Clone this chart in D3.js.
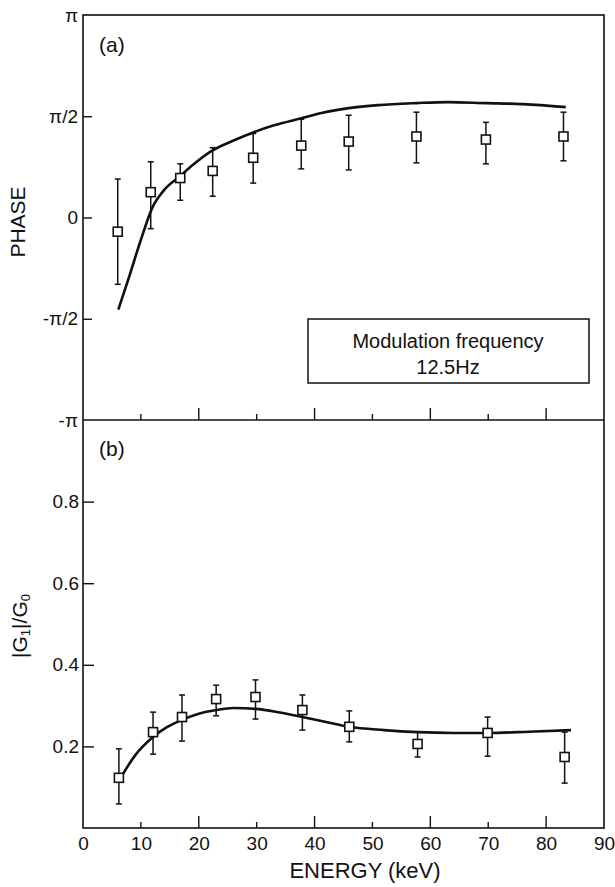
<!DOCTYPE html>
<html>
<head>
<meta charset="utf-8">
<script src="https://cdn.jsdelivr.net/npm/d3@7/dist/d3.min.js"></script>
<style>
  body { margin: 0; background: #fff; }
  svg text { font-family: "Liberation Sans", Arial, sans-serif; fill: #111; }
</style>
</head>
<body>
<div id="viz"></div>
<script>
// ****************** Data section ***************************
// energies of the measured points (keV)
var energies = [6, 11.7, 16.8, 22.4, 29.4, 37.7, 45.9, 57.6, 69.6, 83.0];

// panel (a): phase in units of pi, with error bar ends
var phase     = [-0.07, 0.125, 0.195, 0.23, 0.295, 0.355, 0.375, 0.40, 0.385, 0.40];
var phaseHi   = [0.19, 0.275, 0.265, 0.345, 0.415, 0.485, 0.505, 0.52, 0.47, 0.52];
var phaseLo   = [-0.33, -0.055, 0.085, 0.105, 0.17, 0.24, 0.235, 0.27, 0.265, 0.28];
var phaseCurveE = [6.1, 8, 10, 12, 14, 16.8, 19, 22.3, 26, 29.4, 33, 37.7, 41, 45.9, 51, 57.6, 63, 69.6, 76, 83.4];
var phaseCurve  = [-0.455, -0.29, -0.11, 0.05, 0.135, 0.205, 0.26, 0.33, 0.38, 0.42, 0.455, 0.49, 0.515, 0.54, 0.555, 0.565, 0.57, 0.565, 0.56, 0.545];

// panel (b): |G1|/G0
var energiesB = [6.2, 12.1, 17.1, 23, 29.8, 37.9, 46, 57.8, 69.9, 83.2];
var ratio     = [0.123, 0.235, 0.272, 0.316, 0.321, 0.289, 0.248, 0.206, 0.233, 0.174];
var ratioHi   = [0.194, 0.284, 0.326, 0.35, 0.363, 0.326, 0.287, 0.235, 0.272, 0.235];
var ratioLo   = [0.059, 0.181, 0.213, 0.275, 0.267, 0.240, 0.211, 0.174, 0.176, 0.110];
var ratioCurveE = [6.8, 9, 12.1, 14.5, 17.1, 20, 23, 26, 29.8, 34, 37.9, 42, 46, 52, 57.8, 64, 69.9, 77, 84.3];
var ratioCurve  = [0.13, 0.178, 0.223, 0.247, 0.265, 0.28, 0.289, 0.294, 0.292, 0.283, 0.272, 0.26, 0.248, 0.24, 0.235, 0.233, 0.233, 0.236, 0.240];

// tick labels
var xTicks = [0, 10, 20, 30, 40, 50, 60, 70, 80, 90];
var phaseTicks = [-1, -0.5, 0, 0.5, 1];
var phaseTickLabels = ["-\u03c0", "-\u03c0/2", "0", "\u03c0/2", "\u03c0"];
var ratioTicks = [0.2, 0.4, 0.6, 0.8];

// ****************** Layout section ***************************
var width = 615,
    height = 887;

var svg = d3.select("#viz")
    .append("svg")
    .attr("width", width)
    .attr("height", height);

var plotLeft = 83, plotRight = 604, plotTop = 15, plotMid = 420, plotBottom = 828;

var x = d3.scaleLinear().domain([0, 90]).range([plotLeft, plotRight]);
var yA = d3.scaleLinear().domain([-1, 1]).range([plotMid, plotTop]);
var yB = d3.scaleLinear().domain([0, 1]).range([plotBottom, plotMid]);

// frame
svg.append("rect")
    .attr("x", plotLeft).attr("y", plotTop)
    .attr("width", plotRight - plotLeft).attr("height", plotBottom - plotTop)
    .attr("fill", "none").attr("stroke", "#111").attr("stroke-width", 1.6);

svg.append("line")
    .attr("x1", plotLeft).attr("x2", plotRight)
    .attr("y1", plotMid).attr("y2", plotMid)
    .attr("stroke", "#111").attr("stroke-width", 1.6);

// ****************** Axis section ***************************
var xAxis = svg.append("g")
    .attr("transform", "translate(0," + plotBottom + ")")
    .call(d3.axisBottom(x).tickValues(xTicks).tickSize(0).tickPadding(9));
xAxis.select(".domain").remove();
xAxis.selectAll("text").style("font-size", "19px");

// x ticks pointing up, on bottom axis and on the middle line
[plotBottom, plotMid].forEach(function(y0) {
  svg.append("g").selectAll("line")
      .data(xTicks.filter(function(d) { return d > 0 && d < 90; }))
      .enter().append("line")
      .attr("x1", function(d) { return x(d); })
      .attr("x2", function(d) { return x(d); })
      .attr("y1", y0)
      .attr("y2", function(d) { return y0 - (d % 20 == 0 ? 12 : 6); })   // long ticks every 20
      .attr("stroke", "#111").attr("stroke-width", 1.4);
});

var yAxisA = svg.append("g")
    .attr("transform", "translate(" + plotLeft + ",0)")
    .call(d3.axisLeft(yA).tickValues(phaseTicks)
      .tickFormat(function(d, i) { return phaseTickLabels[i]; })
      .tickSize(-9).tickPadding(5));
yAxisA.select(".domain").remove();
yAxisA.selectAll("line").attr("stroke", "#111").attr("stroke-width", 1.4)
    .filter(function(d) { return Math.abs(d) == 1; }).remove();
yAxisA.selectAll("text").style("font-size", "19px");

var yAxisB = svg.append("g")
    .attr("transform", "translate(" + plotLeft + ",0)")
    .call(d3.axisLeft(yB).tickValues(ratioTicks).tickFormat(d3.format(".1f"))
      .tickSize(-11).tickPadding(4));
yAxisB.select(".domain").remove();
yAxisB.selectAll("line").attr("stroke", "#111").attr("stroke-width", 1.4);
yAxisB.selectAll("text").style("font-size", "19px");

// axis titles
svg.append("text")
    .attr("x", 365).attr("y", 878)
    .attr("text-anchor", "middle")
    .style("font-size", "22px")
    .text("ENERGY (keV)");

svg.append("text")
    .attr("transform", "translate(25,222) rotate(-90)")
    .attr("text-anchor", "middle")
    .style("font-size", "21px")
    .text("PHASE");

var gLabel = svg.append("text")
    .attr("transform", "translate(27,626) rotate(-90)")
    .attr("text-anchor", "middle")
    .style("font-size", "21px");
gLabel.append("tspan").text("|G");
gLabel.append("tspan").attr("baseline-shift", "-25%").style("font-size", "13px").text("1");
gLabel.append("tspan").text("|/G");
gLabel.append("tspan").attr("baseline-shift", "-25%").style("font-size", "13px").text("0");

// panel letters
svg.append("text").attr("x", 99).attr("y", 52).style("font-size", "21px").text("(a)");
svg.append("text").attr("x", 99).attr("y", 456).style("font-size", "21px").text("(b)");

// legend box
svg.append("rect")
    .attr("x", 308).attr("y", 319)
    .attr("width", 281).attr("height", 64)
    .attr("fill", "#fff").attr("stroke", "#111").attr("stroke-width", 1.5);
svg.append("text").attr("x", 448).attr("y", 348)
    .attr("text-anchor", "middle").style("font-size", "20px")
    .text("Modulation frequency");
svg.append("text").attr("x", 448).attr("y", 374)
    .attr("text-anchor", "middle").style("font-size", "20px")
    .text("12.5Hz");

// ****************** Data marks ***************************
function drawPanel(xs, ys, his, los, curveE, curveV, y) {
  var line = d3.line()
      .x(function(d) { return x(d[0]); })
      .y(function(d) { return y(d[1]); })
      .curve(d3.curveMonotoneX);

  svg.append("path")
      .datum(d3.zip(curveE, curveV))
      .attr("d", line)
      .attr("fill", "none")
      .attr("stroke", "#111")
      .attr("stroke-width", 2.6);

  var pts = svg.append("g").selectAll("g")
      .data(d3.range(xs.length))
      .enter().append("g");

  pts.append("line")                                                    // error bar
      .attr("x1", function(i) { return x(xs[i]); })
      .attr("x2", function(i) { return x(xs[i]); })
      .attr("y1", function(i) { return y(his[i]); })
      .attr("y2", function(i) { return y(los[i]); })
      .attr("stroke", "#111").attr("stroke-width", 1.5);

  [his, los].forEach(function(arr) {                                    // caps
    pts.append("line")
        .attr("x1", function(i) { return x(xs[i]) - 3; })
        .attr("x2", function(i) { return x(xs[i]) + 3; })
        .attr("y1", function(i) { return y(arr[i]); })
        .attr("y2", function(i) { return y(arr[i]); })
        .attr("stroke", "#111").attr("stroke-width", 1.5);
  });

  pts.append("rect")                                                    // open squares
      .attr("x", function(i) { return x(xs[i]) - 4.5; })
      .attr("y", function(i) { return y(ys[i]) - 4.5; })
      .attr("width", 9).attr("height", 9)
      .attr("fill", "#fff").attr("stroke", "#111").attr("stroke-width", 1.6);
}

drawPanel(energies, phase, phaseHi, phaseLo, phaseCurveE, phaseCurve, yA);
drawPanel(energiesB, ratio, ratioHi, ratioLo, ratioCurveE, ratioCurve, yB);
</script>
</body>
</html>
